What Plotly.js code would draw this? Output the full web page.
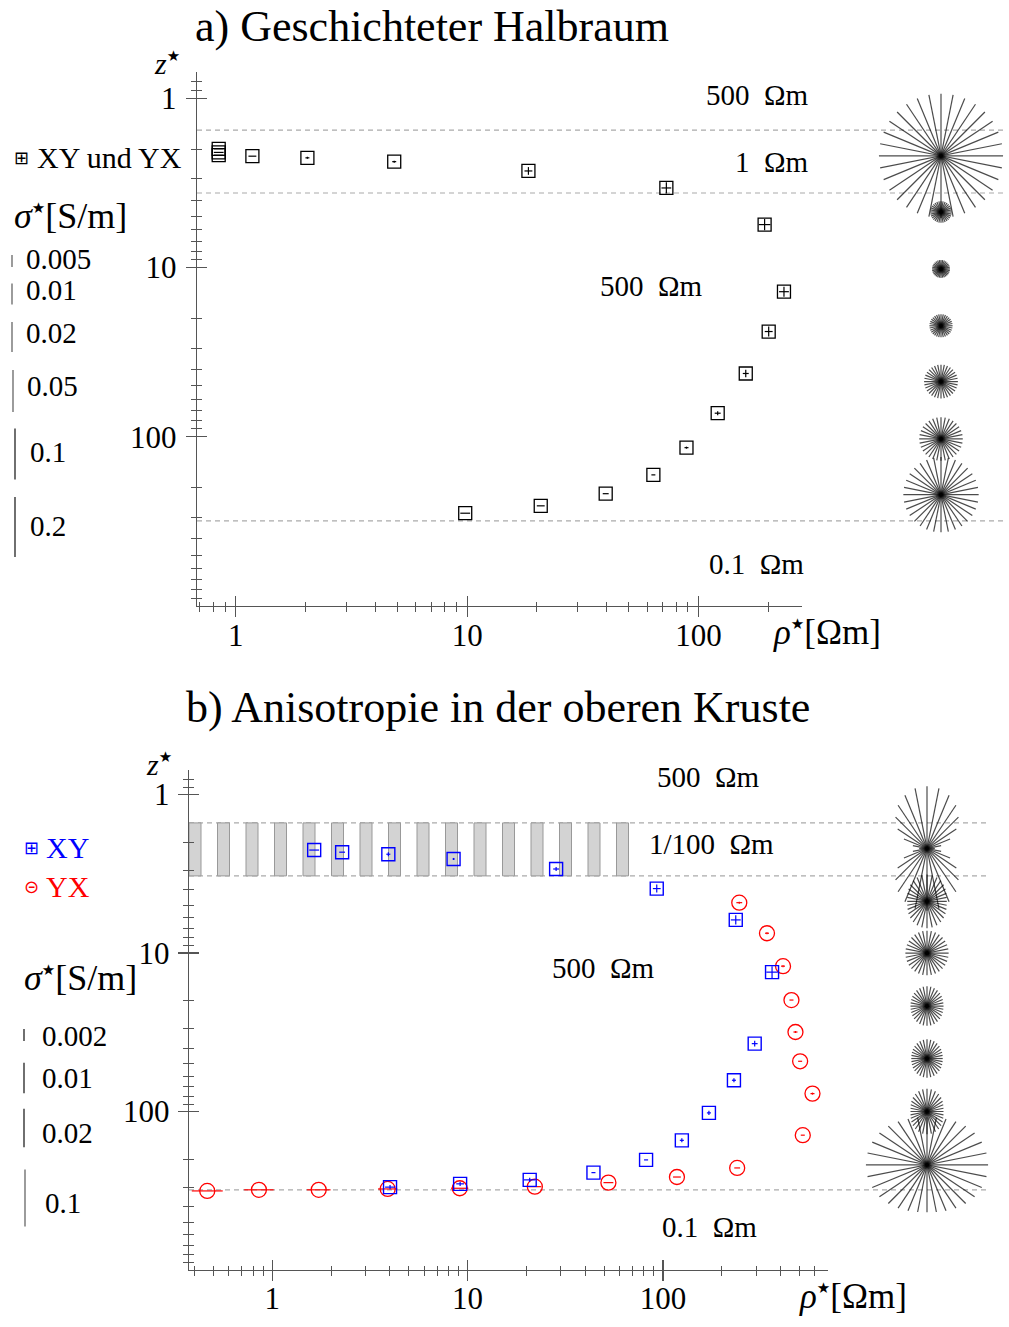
<!DOCTYPE html>
<html><head><meta charset="utf-8">
<script src="https://cdn.plot.ly/plotly-3.0.1.min.js"></script>
<style>html,body{margin:0;padding:0;background:#fff}</style>
</head><body><div id="chart" style="width:1009px;height:1327px"></div>
<script>
// ---------------- DATA ----------------
// Panel a) Geschichteter Halbraum  (XY und YX identical)
const aRho    = [0.844, 0.844, 0.844, 1.18, 2.04, 4.84, 18.4, 72.6, 193, 234, 201, 160, 121, 88.7, 63.8, 39.7, 20.8, 9.81];
const aZ      = [1.99, 2.09, 2.17, 2.20, 2.25, 2.37, 2.69, 3.39, 5.58, 13.9, 23.9, 42.3, 72.6, 116, 168, 217, 256, 283];
const aErrRho = [5, 5, 5, 4, 2, 2, 4, 5, 6, 5, 4, 3, 3, 2, 2, 3, 4, 5];          // percent
const aErrZ   = [0, 0, 0, 0, 1.4, 1.4, 5.4, 8, 8, 7, 7, 5.4, 2.7, 1.4, 0, 0, 0, 0]; // percent
const aLayers = [1.545, 3.63, 314];
const aStarZ     = [2.19, 4.70, 10.2, 22.1, 47.2, 103, 220];
const aStarSigV  = [0.245, 0.0046, 0.0040, 0.0049, 0.0074, 0.0108, 0.037];
const aStarSigH  = [0.245, 0.0046, 0.0040, 0.0049, 0.0074, 0.0108, 0.037];
const aSigLegend = [0.005, 0.01, 0.02, 0.05, 0.1, 0.2];

// Panel b) Anisotropie in der oberen Kruste
const bRhoXY    = [1.64, 2.28, 3.93, 8.48, 28.4, 93.0, 236, 362, 295, 231, 172, 125, 82, 44.1, 20.8, 9.16, 4.01];
const bZXY      = [2.24, 2.31, 2.38, 2.55, 2.95, 3.92, 6.18, 13.2, 37.3, 63.5, 102, 152, 202, 243, 270, 286, 300];
const bErrRhoXY = [6, 3.5, 2.4, 1.2, 3.5, 4.7, 6, 7, 3.5, 2.4, 2.4, 2.4, 2.4, 2.4, 7, 4.7, 6];
const bErrZXY   = [0, 0, 3, 1.5, 3, 6, 7, 9, 4.4, 3, 3, 3, 0, 0, 3, 3, 3];
const bRhoYX    = [246, 341, 412, 455, 477, 504, 583, 520, 240, 118, 52.6, 22.1, 9.12, 3.90, 1.73, 0.855, 0.465];
const bZYX      = [4.81, 7.50, 12.1, 19.8, 31.5, 48.2, 77.1, 141, 227, 259, 281, 298, 305, 308, 312, 312, 317];
const bErrRhoYX = [3.5, 2.4, 2.4, 2.4, 2.4, 2.4, 2.4, 2.4, 3.5, 4.7, 6, 8, 10.6, 12, 15, 19, 20];
const bErrZYX   = [1.5, 1.5, 1.5, 0, 1.5, 0, 1.5, 0, 0, 0, 0, 0, 0, 0, 0, 0, 0];
const bLayers = [1.51, 3.26, 312];
const bStarZ    = [2.19, 4.72, 10.0, 21.6, 46.3, 100, 217];
const bStarSigV = [0.168, 0.0074, 0.0050, 0.0040, 0.0038, 0.0052, 0.0456];
const bStarSigH = [0.0014, 0.0040, 0.0047, 0.0030, 0.0028, 0.0030, 0.150];
const bSigLegend = [0.002, 0.01, 0.02, 0.1];

const majorTicks = [1, 10, 100];
const tickText = ['1', '10', '100'];
const zMinor  = [0.8, 0.9, 2, 3, 4, 5, 6, 7, 8, 9, 20, 30, 40, 50, 60, 70, 80, 90, 200, 300, 400, 500, 600, 700, 800, 900];
const aRhoMinor = [0.7, 0.8, 0.9, 2, 3, 4, 5, 6, 7, 8, 9, 20, 30, 40, 50, 60, 70, 80, 90, 200];
const bRhoMinor = [0.4, 0.5, 0.6, 0.7, 0.8, 0.9, 2, 3, 4, 5, 6, 7, 8, 9, 20, 30, 40, 50, 60, 70, 80, 90, 200, 300, 400, 500, 600];

// ---------------- HELPERS ----------------
const W = 1009, H = 1327;
const PX = v => v / W, PY = v => 1 - v / H;
const SERIF = 'Liberation Serif, Times New Roman, serif';
const AX = '#555';
const lenA = s => Math.max(0, 30 * (Math.log10(s) + 2.70));
const lenB = s => Math.max(0, 26.5 * (Math.log10(s) + 3.152));
const NSPOKE = 16;
const LINE_SYMBOL_SCALE = Math.SQRT2; // plotly draws line-ns with length size*sqrt(2)

function errBar(vals, pct, color) {
  return {type: 'data', symmetric: false,
    array: vals.map((v, i) => v * pct[i] / 100),
    arrayminus: vals.map((v, i) => v * (1 - 1 / (1 + pct[i] / 100))),
    color: color, thickness: 1.2, width: 0};
}
function starTrace(depths, sv, sh, lenFn, xa, ya) {
  const xs = [], ys = [], sizes = [], angles = [];
  depths.forEach((d, i) => {
    const Lv = lenFn(sv[i]), Lh = lenFn(sh[i]);
    for (let k = 0; k < NSPOKE; k++) {
      const th = k * 180 / NSPOKE, r = th * Math.PI / 180;
      const L = Math.hypot(Lv * Math.cos(r), Lh * Math.sin(r));
      xs.push(0); ys.push(d); sizes.push(2 * L / LINE_SYMBOL_SCALE); angles.push(th);
    }
  });
  return {type: 'scatter', mode: 'markers', x: xs, y: ys, xaxis: xa, yaxis: ya,
    cliponaxis: false, hoverinfo: 'skip', showlegend: false,
    marker: {symbol: 'line-ns', size: sizes, angle: angles, color: '#000', line: {color: '#000', width: 1.2}}};
}
function dummy(xa, ya) {
  return {type: 'scatter', mode: 'markers', x: [1], y: [1], xaxis: xa, yaxis: ya,
    marker: {opacity: 0}, hoverinfo: 'skip', showlegend: false};
}
function logAxis(extra, minorVals, inside) {
  return Object.assign({
    type: 'log', showgrid: false, zeroline: false, autorange: false,
    showline: !inside, linecolor: AX, linewidth: 1.2,
    tickmode: 'array', tickvals: majorTicks, ticktext: tickText,
    showticklabels: !inside,
    ticks: inside ? 'inside' : 'outside', ticklen: 10, tickwidth: 1.2, tickcolor: AX,
    tickfont: {family: SERIF, size: 31, color: '#000'},
    minor: {tickmode: 'array', tickvals: minorVals, ticks: inside ? 'inside' : 'outside', ticklen: 4.5, tickwidth: 1, tickcolor: AX, showgrid: false}
  }, extra);
}

// ---------------- TRACES ----------------
const traces = [
  {type: 'scatter', mode: 'markers', x: aRho, y: aZ, xaxis: 'x', yaxis: 'y', cliponaxis: false, showlegend: false,
   marker: {symbol: 'square-open', size: 13, color: '#000', line: {width: 1.3}},
   error_x: errBar(aRho, aErrRho, '#000'), error_y: errBar(aZ, aErrZ, '#000')},
  starTrace(aStarZ, aStarSigV, aStarSigH, lenA, 'x2', 'y'),
  {type: 'scatter', mode: 'markers', x: bRhoYX, y: bZYX, xaxis: 'x3', yaxis: 'y3', cliponaxis: false, showlegend: false,
   marker: {symbol: 'circle-open', size: 15, color: '#ff0000', line: {width: 1.3}},
   error_x: errBar(bRhoYX, bErrRhoYX, '#ff0000'), error_y: errBar(bZYX, bErrZYX, '#ff0000')},
  {type: 'scatter', mode: 'markers', x: bRhoXY, y: bZXY, xaxis: 'x3', yaxis: 'y3', cliponaxis: false, showlegend: false,
   marker: {symbol: 'square-open', size: 13, color: '#0000ff', line: {width: 1.4}},
   error_x: errBar(bRhoXY, bErrRhoXY, '#0000ff'), error_y: errBar(bZXY, bErrZXY, '#0000ff')},
  starTrace(bStarZ, bStarSigV, bStarSigH, lenB, 'x4', 'y3'),
  dummy('x5', 'y'), dummy('x', 'y5'), dummy('x6', 'y3'), dummy('x3', 'y6')
];

// ---------------- SHAPES ----------------
const shapes = [];
aLayers.forEach(z => shapes.push({type: 'line', xref: 'paper', yref: 'y', x0: PX(197), x1: PX(1003), y0: z, y1: z,
  line: {color: '#aaa', width: 1.2, dash: '5px,4px'}, layer: 'below'}));
bLayers.forEach(z => shapes.push({type: 'line', xref: 'paper', yref: 'y3', x0: PX(189), x1: PX(988), y0: z, y1: z,
  line: {color: '#aaa', width: 1.2, dash: '5px,4px'}, layer: 'below'}));
// hatch pattern of the anisotropic layer
for (let k = 0; k < 16; k++) {
  const c = 195 + k * 28.5;
  shapes.push({type: 'rect', xref: 'paper', yref: 'y3', x0: PX(c - 6), x1: PX(c + 6), y0: bLayers[0], y1: bLayers[1],
    fillcolor: '#d3d3d3', line: {color: '#999', width: 1}, layer: 'below'});
}
// sigma legend bars
const aLegY = [261, 294, 337, 391, 454, 527], aLegX = [12, 12, 12, 13, 15, 15];
aSigLegend.forEach((s, i) => { const L = lenA(s);
  shapes.push({type: 'line', xref: 'paper', yref: 'paper', x0: PX(aLegX[i]), x1: PX(aLegX[i]),
    y0: PY(aLegY[i] - L / 2), y1: PY(aLegY[i] + L / 2), line: {color: i < 4 ? '#666' : '#222', width: 1.3}}); });
const bLegY = [1035, 1078, 1128, 1198], bLegX = [24, 24, 24, 25];
bSigLegend.forEach((s, i) => { const L = lenB(s);
  shapes.push({type: 'line', xref: 'paper', yref: 'paper', x0: PX(bLegX[i]), x1: PX(bLegX[i]),
    y0: PY(bLegY[i] - L / 2), y1: PY(bLegY[i] + L / 2), line: {color: i === 3 ? '#666' : '#222', width: 1.3}}); });

// ---------------- ANNOTATIONS ----------------
const ann = [];
function T(text, x, y, size, opts) {
  ann.push(Object.assign({text: text, x: PX(x), y: PY(y), xref: 'paper', yref: 'paper', showarrow: false,
    xanchor: 'center', yanchor: 'middle', font: {family: SERIF, size: size, color: '#000'}}, opts || {}));
}
const NB = '\u00a0';
const STAR = '<sup><span style="font-family:DejaVu Sans;font-size:15px">★</span></sup>';
T('a) Geschichteter Halbraum', 432, 27, 44);
T('b) Anisotropie in der oberen Kruste', 498, 707, 44);
// layer labels
T('500' + NB + NB + 'Ωm', 757, 95, 29);
T('1' + NB + NB + 'Ωm', 772, 162, 29);
T('500' + NB + NB + 'Ωm', 651, 286, 29);
T('0.1' + NB + NB + 'Ωm', 756, 564, 29);
T('500' + NB + NB + 'Ωm', 708, 777, 29);
T('1/100' + NB + NB + 'Ωm', 711, 844, 29);
T('500' + NB + NB + 'Ωm', 603, 968, 29);
T('0.1' + NB + NB + 'Ωm', 709, 1227, 29);
// axis titles
T('<i>z</i>' + STAR, 167, 64, 30);
T('<i>ρ</i>' + STAR + '[Ωm]', 771, 633, 35, {xanchor: 'left'});
T('<i>z</i>' + STAR, 159, 764, 30);
T('<i>ρ</i>' + STAR + '[Ωm]', 797, 1296, 35, {xanchor: 'left'});
// legends panel a
T('⊞', 21, 157, 18, {font: {family: 'DejaVu Sans', size: 18, color: '#000'}});
T('XY und YX', 35, 157, 30, {xanchor: 'left'});
T('<i>σ</i>' + STAR + '[S/m]', 12, 216, 36, {xanchor: 'left'});
const aLegTextY = [259, 290, 333, 386, 452, 526], aLegTextX = [24, 24, 24, 25, 28, 28];
aSigLegend.forEach((s, i) => T(String(s), aLegTextX[i], aLegTextY[i], 29, {xanchor: 'left'}));
// legends panel b
T('⊞', 31, 847, 18, {font: {family: 'DejaVu Sans', size: 18, color: '#0000ff'}});
T('XY', 44, 847, 30, {xanchor: 'left', font: {family: SERIF, size: 30, color: '#0000ff'}});
T('⊝', 31, 886, 18, {font: {family: 'DejaVu Sans', size: 18, color: '#ff0000'}});
T('YX', 44, 886, 30, {xanchor: 'left', font: {family: SERIF, size: 30, color: '#ff0000'}});
T('<i>σ</i>' + STAR + '[S/m]', 22, 978, 36, {xanchor: 'left'});
const bLegTextY = [1036, 1078, 1133, 1203], bLegTextX = [40, 40, 40, 43];
bSigLegend.forEach((s, i) => T(String(s), bLegTextX[i], bLegTextY[i], 29, {xanchor: 'left'}));

// ---------------- LAYOUT ----------------
const aXdom = [PX(197), PX(802)], aYdom = [PY(606), PY(72)];
const bXdom = [PX(189), PX(828)], bYdom = [PY(1270), PY(770)];
const aXr = [Math.log10(0.68), Math.log10(280)], bXr = [Math.log10(0.375), Math.log10(700)];
const zr = [3, Math.log10(0.7)];
const hidden = r => ({domain: r, range: [-1, 1], visible: false, showgrid: false, zeroline: false, fixedrange: true});

const layout = {
  width: W, height: H, margin: {l: 0, r: 0, t: 0, b: 0},
  paper_bgcolor: '#fff', plot_bgcolor: 'rgba(0,0,0,0)', showlegend: false,
  xaxis: logAxis({domain: aXdom, range: aXr, anchor: 'y', ticklabelstandoff: -8}, aRhoMinor, false),
  yaxis: logAxis({domain: aYdom, range: zr, anchor: 'x', ticklabelstandoff: 3}, zMinor, false),
  xaxis5: logAxis({overlaying: 'x', range: aXr, anchor: 'y'}, aRhoMinor, true),
  yaxis5: logAxis({overlaying: 'y', range: zr, anchor: 'x', side: 'left'}, zMinor, true),
  xaxis2: Object.assign(hidden([PX(873), PX(1009)]), {anchor: 'y'}),
  xaxis3: logAxis({domain: bXdom, range: bXr, anchor: 'y3', ticklabelstandoff: -9}, bRhoMinor, false),
  yaxis3: logAxis({domain: bYdom, range: zr, anchor: 'x3', ticklabelstandoff: 2}, zMinor, false),
  xaxis6: logAxis({overlaying: 'x3', range: bXr, anchor: 'y3'}, bRhoMinor, true),
  yaxis6: logAxis({overlaying: 'y3', range: zr, anchor: 'x3', side: 'left'}, zMinor, true),
  xaxis4: Object.assign(hidden([PX(845), PX(1009)]), {anchor: 'y3'}),
  shapes: shapes, annotations: ann
};

Plotly.newPlot('chart', traces, layout, {staticPlot: true, displayModeBar: false});
</script></body></html>
